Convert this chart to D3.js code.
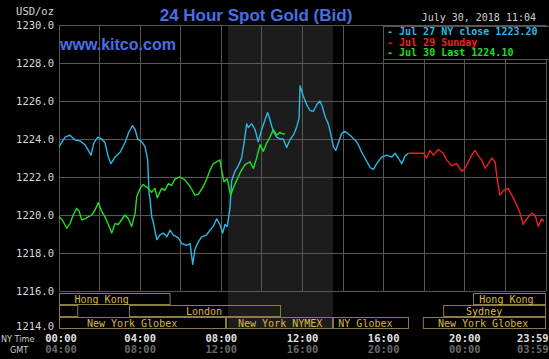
<!DOCTYPE html>
<html>
<head>
  <title>24 Hour Spot Gold</title>
  <script src="https://d3js.org/d3.v7.min.js"></script>
  <style>
    body { margin: 0; background: #000; }
    text { font-family: "DejaVu Sans Mono", monospace; }
  </style>
</head>
<body>
  <div></div>
  <script type="text/javascript">

  // [hour NY time, price]
  var jul27 = [[0,1223.6],[0.3,1224.1],[0.54,1224.2],[0.79,1223.95],[1.03,1223.9],[1.28,1223.7],[1.58,1223.15],
    [1.72,1223.8],[1.91,1224.1],[2.1,1224.0],[2.27,1223.8],[2.43,1223.05],[2.56,1222.7],[2.76,1223.05],[3.01,1223.3],
    [3.25,1223.8],[3.42,1224.3],[3.61,1224.7],[3.75,1224.5],[3.88,1224.0],[4.08,1223.85],[4.24,1223.6],[4.37,1222.9],
    [4.44,1221.1],[4.48,1220.9],[4.57,1219.9],[4.63,1219.7],[4.82,1218.7],[4.98,1218.95],[5.13,1219.05],[5.31,1218.85],
    [5.47,1219.2],[5.63,1218.95],[5.88,1218.8],[6.05,1218.5],[6.29,1218.4],[6.46,1218.5],[6.59,1217.4],[6.7,1218.2],
    [6.87,1218.6],[7.03,1218.85],[7.28,1218.95],[7.44,1219.2],[7.6,1219.4],[7.77,1219.8],[7.93,1219.5],[8.07,1219.05],
    [8.18,1219.5],[8.29,1219.4],[8.43,1220.4],[8.51,1221.8],[8.67,1222.3],[8.84,1222.6],[9.0,1223.0],[9.12,1223.8],
    [9.25,1224.8],[9.33,1224.6],[9.5,1224.8],[9.66,1224.5],[9.82,1223.85],[9.99,1224.5],[10.15,1225.0],[10.28,1225.4],
    [10.4,1225.0],[10.56,1224.4],[10.73,1224.1],[10.89,1224.0],[11.05,1224.0],[11.22,1223.55],[11.38,1223.95],
    [11.55,1224.2],[11.72,1224.65],[11.83,1225.1],[11.88,1226.8],[12.04,1226.25],[12.21,1225.8],[12.37,1225.5],
    [12.53,1225.45],[12.7,1225.8],[12.86,1226.0],[12.98,1225.7],[13.11,1225.2],[13.27,1224.8],[13.41,1224.2],
    [13.52,1223.6],[13.64,1223.4],[13.77,1223.8],[13.93,1224.3],[14.09,1224.4],[14.34,1224.2],[14.59,1223.95],
    [14.75,1223.7],[14.92,1223.3],[15.08,1223.0],[15.33,1222.5],[15.49,1222.4],[15.66,1222.7],[15.9,1223.05],
    [16.15,1223.15],[16.4,1223.05],[16.56,1223.25],[16.72,1223.0],[16.89,1222.7],[17.05,1223.1],[17.22,1223.25]];

  var jul29 = [[17.22,1223.25],[17.96,1223.25],[18.12,1223.0],[18.28,1223.4],[18.45,1223.15],[18.69,1223.45],
    [18.94,1223.25],[19.1,1222.9],[19.35,1222.6],[19.6,1222.7],[19.85,1222.3],[20.01,1222.45],[20.17,1222.8],
    [20.34,1223.15],[20.5,1223.4],[20.67,1223.1],[20.83,1222.9],[21.0,1222.45],[21.16,1222.7],[21.33,1223.0],
    [21.49,1222.8],[21.6,1221.85],[21.73,1221.05],[21.9,1221.3],[22.14,1221.4],[22.39,1220.9],[22.59,1220.45],
    [22.72,1220.1],[22.88,1219.5],[23.05,1219.8],[23.3,1220.1],[23.46,1220.0],[23.62,1219.4],[23.79,1219.8],[23.9,1219.65]];

  var jul30 = [[0,1219.9],[0.16,1219.75],[0.38,1219.3],[0.54,1219.55],[0.7,1220.0],[0.87,1220.35],[0.99,1220.2],
    [1.12,1219.75],[1.28,1219.8],[1.44,1219.9],[1.61,1220.0],[1.77,1220.25],[1.94,1220.65],[2.1,1220.2],[2.27,1219.9],
    [2.43,1219.5],[2.6,1219.05],[2.76,1219.55],[2.92,1219.5],[3.09,1219.75],[3.25,1220.0],[3.42,1219.8],[3.58,1219.4],
    [3.75,1220.1],[3.83,1220.95],[3.99,1221.4],[4.15,1221.6],[4.4,1221.4],[4.57,1221.2],[4.73,1221.4],[4.84,1220.9],
    [5.06,1221.4],[5.22,1221.3],[5.39,1221.65],[5.55,1221.55],[5.72,1221.9],[5.96,1222.0],[6.21,1221.85],[6.46,1221.5],
    [6.7,1221.05],[6.87,1221.1],[7.11,1221.5],[7.28,1221.9],[7.44,1222.35],[7.6,1222.7],[7.77,1222.8],[7.93,1222.9],
    [8.02,1222.35],[8.13,1221.75],[8.29,1221.9],[8.46,1221.05],[8.62,1221.5],[8.79,1221.9],[8.96,1222.3],[9.17,1222.65],
    [9.41,1222.8],[9.58,1222.45],[9.74,1223.0],[9.91,1223.7],[10.07,1223.35],[10.24,1223.8],[10.4,1224.1],[10.56,1224.5],
    [10.73,1224.2],[10.89,1224.35],[11.05,1224.25],[11.14,1224.3]];

  var priceTicks = [1214, 1216, 1218, 1220, 1222, 1224, 1226, 1228, 1230];
  var hourTicks = [0, 4, 8, 12, 16, 20, 23.983];
  var nyLabels = ["00:00", "04:00", "08:00", "12:00", "16:00", "20:00", "23:59"];
  var gmtLabels = ["04:00", "08:00", "12:00", "16:00", "20:00", "00:00", "03:59"];

  var legendLabels = ["- Jul 27 NY close 1223.20", "- Jul 29 Sunday", "- Jul 30 Last 1224.10"];
  var legendColors = ["#2bb7e6", "#ee2020", "#22dd22"];

  // market sessions: row, start hour, end hour, label centre hour
  var markets = [
    {name: "Hong Kong", row: 0, start: -3, end: 5.5, mid: 2.1},
    {name: "", row: 1, start: -1, end: 0.95},
    {name: "London", row: 1, start: 3.45, end: 10.94, mid: 7.15},
    {name: "New York Globex", row: 2, start: -1, end: 8.23, mid: 3.6},
    {name: "New York NYMEX", row: 2, start: 8.23, end: 13.5, mid: 10.9},
    {name: "NY Globex", row: 2, start: 13.5, end: 17.25, mid: 15.1},
    {name: "New York Globex", row: 2, start: 17.93, end: 24, mid: 20.9},
    {name: "Sydney", row: 1, start: 18.93, end: 24, mid: 20.95},
    {name: "Hong Kong", row: 0, start: 20.4, end: 24, mid: 22.05}
  ];
  var nymexHours = [8.33, 13.5];

  var W = 549, H = 359;
  var x = d3.scaleLinear().domain([0, 24]).range([59, 546]);
  var y = d3.scaleLinear().domain([1214, 1230]).range([329, 25]);

  var svg = d3.select("div").append("svg").attr("width", W).attr("height", H)
    .style("display", "block").style("background", "#000");

  // NYMEX shading
  svg.append("rect")
    .attr("x", x(nymexHours[0])).attr("y", y(1230))
    .attr("width", x(nymexHours[1]) - x(nymexHours[0]))
    .attr("height", y(1214) - y(1230))
    .attr("fill", "#1c1c1c");

  // grid
  var gridHours = d3.range(0, 25, 2);
  svg.selectAll(".vg").data(gridHours).enter().append("line")
    .attr("x1", x).attr("x2", x)
    .attr("y1", y(1230)).attr("y2", y(1216))
    .attr("stroke", "#575757").attr("stroke-width", 1).attr("shape-rendering", "crispEdges");
  svg.selectAll(".hg").data(priceTicks.filter(function(d){ return d > 1214; })).enter().append("line")
    .attr("x1", x(0)).attr("x2", x(24))
    .attr("y1", y).attr("y2", y)
    .attr("stroke", "#575757").attr("stroke-width", 1).attr("shape-rendering", "crispEdges");

  // y axis labels
  var yAxis = d3.axisLeft(y).tickValues(priceTicks).tickSize(0).tickPadding(0)
    .tickFormat(d3.format(".1f"));
  var gy = svg.append("g").attr("transform", "translate(54,0)").call(yAxis);
  gy.select(".domain").remove();
  gy.selectAll("text").attr("fill", "#d8d8d8").style("font-size", "10.5px")
    .style("font-family", "'DejaVu Sans Mono', monospace")
    .attr("dy", function(d){ return d == 1214 ? "0.05em" : "0.32em"; });

  svg.append("text").attr("x", 54).attr("y", 15).attr("text-anchor", "end")
    .attr("fill", "#d8d8d8").style("font-size", "10.5px").text("USD/oz");

  // market boxes
  var rowTop = [293, 305, 317], rowH = 11;
  var mk = svg.append("g");
  mk.selectAll("rect").data(markets).enter().append("rect")
    .attr("x", function(d){ return Math.max(x(d.start), x(0)) + 0.5; })
    .attr("y", function(d){ return rowTop[d.row] + 0.5; })
    .attr("width", function(d){ return Math.min(x(d.end), x(24)) - Math.max(x(d.start), x(0)) - 1; })
    .attr("height", rowH)
    .attr("fill", "none").attr("stroke", "#8c7c45").attr("stroke-width", 1);
  mk.selectAll("text").data(markets.filter(function(d){ return d.name; })).enter().append("text")
    .attr("x", function(d){ return x(d.mid); })
    .attr("y", function(d){ return rowTop[d.row] + 9.5; })
    .attr("text-anchor", "middle").attr("fill", "#dcb843").style("font-size", "10px")
    .text(function(d){ return d.name; });

  // lines
  var line = d3.line().x(function(d){ return x(d[0]); }).y(function(d){ return y(d[1]); });
  [[jul27, legendColors[0]], [jul29, legendColors[1]], [jul30, legendColors[2]]].forEach(function(s){
    svg.append("path").datum(s[0]).attr("d", line)
      .attr("fill", "none").attr("stroke", s[1]).attr("stroke-width", 1.4)
      .attr("stroke-linejoin", "round");
  });

  // x axis labels
  var last = hourTicks.length - 1;
  svg.selectAll(".ny").data(hourTicks).enter().append("text")
    .attr("x", function(d){ return x(d); })
    .attr("y", 342)
    .attr("text-anchor", function(d, i){ return i == last ? "end" : "middle"; })
    .attr("dx", function(d, i){ return i == last ? 3 : (i == 0 ? 2 : 0); })
    .attr("fill", "#e0e0e0").style("font-size", "10.5px").style("font-weight", "bold")
    .text(function(d, i){ return nyLabels[i]; });
  svg.selectAll(".gmt").data(hourTicks).enter().append("text")
    .attr("x", function(d){ return x(d); })
    .attr("y", 353)
    .attr("text-anchor", function(d, i){ return i == last ? "end" : "middle"; })
    .attr("dx", function(d, i){ return i == last ? 3 : (i == 0 ? 2 : 0); })
    .attr("fill", "#6a6a6a").style("font-size", "10.5px").style("font-weight", "bold")
    .text(function(d, i){ return gmtLabels[i]; });
  svg.append("text").attr("x", 1).attr("y", 342).attr("fill", "#cfcfcf")
    .style("font-size", "9px").style("font-family", "'DejaVu Sans Condensed', sans-serif").text("NY Time");
  svg.append("text").attr("x", 10).attr("y", 353).attr("fill", "#cfcfcf")
    .style("font-size", "9px").style("font-family", "'DejaVu Sans Condensed', sans-serif").text("GMT");

  // titles
  svg.append("text").attr("x", 256).attr("y", 21).attr("text-anchor", "middle")
    .attr("fill", "#4a6ee6").style("font-family", "'Liberation Sans', Arial, sans-serif")
    .style("font-size", "17px").style("font-weight", "bold").text("24 Hour Spot Gold (Bid)");
  svg.append("text").attr("x", 60).attr("y", 50)
    .attr("fill", "#4a6ee6").style("font-family", "'Liberation Sans', Arial, sans-serif")
    .style("font-size", "16px").style("font-weight", "bold").text("www.kitco.com");
  svg.append("text").attr("x", 536).attr("y", 21).attr("text-anchor", "end")
    .attr("fill", "#d0d0d0").style("font-size", "10px").text("July 30, 2018 11:04");

  // legend
  svg.append("rect").attr("x", 383.5).attr("y", 26.5).attr("width", 166).attr("height", 33)
    .attr("fill", "#000").attr("stroke", "#555");
  svg.selectAll(".lg").data(legendLabels).enter().append("text")
    .attr("x", 387).attr("y", function(d, i){ return 35 + i * 10.5; })
    .attr("fill", function(d, i){ return legendColors[i]; })
    .style("font-size", "10px").style("font-weight", "bold")
    .text(function(d){ return d; });

  </script>
</body>
</html>
